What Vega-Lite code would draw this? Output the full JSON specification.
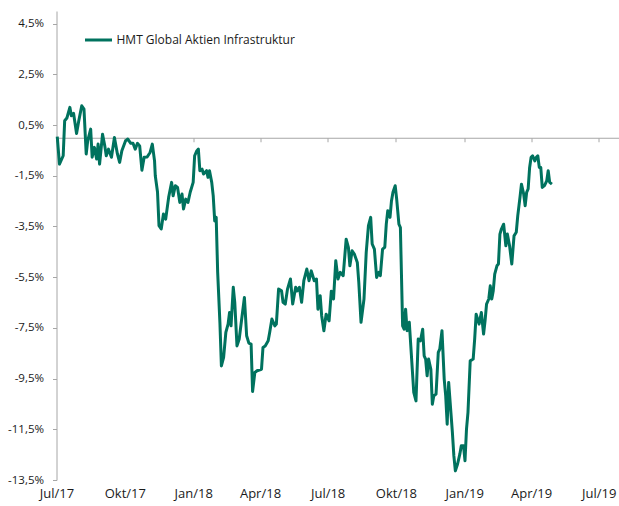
{
  "$schema": "https://vega.github.io/schema/vega-lite/v6.json",
  "width": 563,
  "height": 469,
  "autosize": {"type": "none"},
  "padding": {"left": 56.5, "top": 11, "right": 0, "bottom": 26},
  "background": "white",
  "config": {
    "view": {"stroke": null},
    "font": "Open Sans",
    "axis": {"grid": false, "title": null, "domainColor": "#a6a6a6", "tickColor": "#a6a6a6", "labelColor": "#1a1a1a"}
  },
  "data": {"values": [
    {"date":"2017-07-02","value":0.04},{"date":"2017-07-05","value":-1.04},{"date":"2017-07-10","value":-0.71},{"date":"2017-07-12","value":0.67},{"date":"2017-07-15","value":0.78},{"date":"2017-07-19","value":1.2},{"date":"2017-07-21","value":0.87},{"date":"2017-07-24","value":0.96},{"date":"2017-07-28","value":0.17},{"date":"2017-07-31","value":0.67},
    {"date":"2017-08-04","value":1.26},{"date":"2017-08-07","value":1.13},{"date":"2017-08-10","value":-0.64},{"date":"2017-08-12","value":-0.12},{"date":"2017-08-16","value":0.34},{"date":"2017-08-18","value":-0.77},{"date":"2017-08-21","value":-0.38},{"date":"2017-08-24","value":-0.84},{"date":"2017-08-26","value":-0.25},{"date":"2017-08-28","value":-1.04},
    {"date":"2017-09-01","value":0.14},{"date":"2017-09-04","value":-0.32},{"date":"2017-09-06","value":-0.71},{"date":"2017-09-09","value":-0.45},{"date":"2017-09-13","value":-0.77},{"date":"2017-09-17","value":0.01},{"date":"2017-09-21","value":-0.64},{"date":"2017-09-24","value":-0.97},{"date":"2017-09-27","value":-0.51},
    {"date":"2017-10-02","value":-0.12},{"date":"2017-10-05","value":-0.05},{"date":"2017-10-09","value":-0.22},{"date":"2017-10-12","value":-0.22},{"date":"2017-10-15","value":-0.45},{"date":"2017-10-18","value":-0.22},{"date":"2017-10-21","value":-0.32},{"date":"2017-10-24","value":-1.28},{"date":"2017-10-27","value":-0.77},{"date":"2017-10-31","value":-0.76},
    {"date":"2017-11-04","value":-0.58},{"date":"2017-11-07","value":-0.25},{"date":"2017-11-10","value":-0.91},{"date":"2017-11-11","value":-1.5},{"date":"2017-11-14","value":-2.14},{"date":"2017-11-16","value":-3.47},{"date":"2017-11-19","value":-3.6},{"date":"2017-11-22","value":-3.01},{"date":"2017-11-25","value":-3.21},{"date":"2017-11-29","value":-2.35},
    {"date":"2017-12-03","value":-1.76},{"date":"2017-12-05","value":-2.29},{"date":"2017-12-08","value":-1.89},{"date":"2017-12-11","value":-1.96},{"date":"2017-12-14","value":-2.55},{"date":"2017-12-17","value":-2.22},{"date":"2017-12-19","value":-2.81},{"date":"2017-12-22","value":-2.42},{"date":"2017-12-25","value":-2.55},{"date":"2017-12-28","value":-2.15},
    {"date":"2018-01-01","value":-1.76},{"date":"2018-01-03","value":-0.71},{"date":"2018-01-06","value":-0.51},{"date":"2018-01-08","value":-0.45},{"date":"2018-01-10","value":-1.3},{"date":"2018-01-13","value":-1.24},{"date":"2018-01-15","value":-1.43},{"date":"2018-01-19","value":-1.3},{"date":"2018-01-21","value":-1.56},{"date":"2018-01-23","value":-1.3},{"date":"2018-01-26","value":-1.76},{"date":"2018-01-28","value":-2.29},{"date":"2018-01-30","value":-3.28},
    {"date":"2018-02-01","value":-3.14},{"date":"2018-02-03","value":-5.31},{"date":"2018-02-06","value":-7.28},{"date":"2018-02-08","value":-9.0},{"date":"2018-02-11","value":-8.66},{"date":"2018-02-14","value":-7.68},{"date":"2018-02-17","value":-7.35},{"date":"2018-02-19","value":-6.89},{"date":"2018-02-21","value":-7.42},{"date":"2018-02-24","value":-5.9},{"date":"2018-02-26","value":-6.49},
    {"date":"2018-03-01","value":-8.21},{"date":"2018-03-04","value":-7.94},{"date":"2018-03-07","value":-7.23},{"date":"2018-03-11","value":-6.3},{"date":"2018-03-14","value":-7.81},{"date":"2018-03-17","value":-8.1},{"date":"2018-03-20","value":-8.14},{"date":"2018-03-22","value":-10.01},{"date":"2018-03-25","value":-9.26},{"date":"2018-03-28","value":-9.19},
    {"date":"2018-04-03","value":-9.13},{"date":"2018-04-05","value":-8.27},{"date":"2018-04-08","value":-8.21},{"date":"2018-04-12","value":-8.01},{"date":"2018-04-14","value":-7.68},{"date":"2018-04-17","value":-7.15},{"date":"2018-04-21","value":-7.42},{"date":"2018-04-23","value":-7.35},{"date":"2018-04-26","value":-5.97},{"date":"2018-04-30","value":-6.04},
    {"date":"2018-05-02","value":-6.49},{"date":"2018-05-05","value":-6.56},{"date":"2018-05-08","value":-5.97},{"date":"2018-05-12","value":-5.57},{"date":"2018-05-15","value":-6.56},{"date":"2018-05-19","value":-5.9},{"date":"2018-05-21","value":-6.04},{"date":"2018-05-24","value":-5.9},{"date":"2018-05-27","value":-6.49},{"date":"2018-05-30","value":-5.64},
    {"date":"2018-06-03","value":-5.18},{"date":"2018-06-06","value":-5.64},{"date":"2018-06-09","value":-5.25},{"date":"2018-06-13","value":-5.64},{"date":"2018-06-16","value":-5.57},{"date":"2018-06-18","value":-6.76},{"date":"2018-06-21","value":-6.23},{"date":"2018-06-23","value":-7.02},{"date":"2018-06-26","value":-7.61},{"date":"2018-06-29","value":-6.96},
    {"date":"2018-07-03","value":-7.22},{"date":"2018-07-06","value":-6.05},{"date":"2018-07-09","value":-6.36},{"date":"2018-07-12","value":-4.85},{"date":"2018-07-15","value":-5.57},{"date":"2018-07-18","value":-5.31},{"date":"2018-07-22","value":-5.44},{"date":"2018-07-26","value":-4.0},{"date":"2018-07-29","value":-4.32},{"date":"2018-07-31","value":-5.05},
    {"date":"2018-08-03","value":-4.46},{"date":"2018-08-06","value":-4.59},{"date":"2018-08-10","value":-4.92},{"date":"2018-08-12","value":-5.71},{"date":"2018-08-15","value":-7.28},{"date":"2018-08-19","value":-6.36},{"date":"2018-08-22","value":-4.52},{"date":"2018-08-25","value":-3.47},{"date":"2018-08-28","value":-3.14},{"date":"2018-08-30","value":-4.19},
    {"date":"2018-09-02","value":-4.39},{"date":"2018-09-05","value":-5.51},{"date":"2018-09-08","value":-5.31},{"date":"2018-09-10","value":-5.44},{"date":"2018-09-13","value":-4.39},{"date":"2018-09-16","value":-4.32},{"date":"2018-09-18","value":-3.41},{"date":"2018-09-20","value":-2.88},{"date":"2018-09-23","value":-3.14},{"date":"2018-09-25","value":-2.49},{"date":"2018-09-27","value":-2.15},{"date":"2018-09-30","value":-1.89},
    {"date":"2018-10-02","value":-2.42},{"date":"2018-10-05","value":-3.41},{"date":"2018-10-07","value":-3.54},{"date":"2018-10-10","value":-7.42},{"date":"2018-10-12","value":-7.55},{"date":"2018-10-14","value":-6.76},{"date":"2018-10-16","value":-7.61},{"date":"2018-10-19","value":-7.28},{"date":"2018-10-23","value":-9.13},{"date":"2018-10-25","value":-10.04},{"date":"2018-10-28","value":-10.38},{"date":"2018-10-31","value":-7.94},
    {"date":"2018-11-03","value":-8.01},{"date":"2018-11-06","value":-7.55},{"date":"2018-11-08","value":-8.6},{"date":"2018-11-10","value":-8.73},{"date":"2018-11-12","value":-9.39},{"date":"2018-11-14","value":-8.73},{"date":"2018-11-17","value":-9.13},{"date":"2018-11-19","value":-10.51},{"date":"2018-11-21","value":-10.18},{"date":"2018-11-24","value":-10.11},{"date":"2018-11-27","value":-8.47},{"date":"2018-11-29","value":-8.34},
    {"date":"2018-12-02","value":-7.61},{"date":"2018-12-05","value":-9.52},{"date":"2018-12-07","value":-10.18},{"date":"2018-12-09","value":-11.3},{"date":"2018-12-11","value":-9.65},{"date":"2018-12-14","value":-10.83},{"date":"2018-12-16","value":-11.62},{"date":"2018-12-18","value":-12.55},{"date":"2018-12-20","value":-13.14},{"date":"2018-12-23","value":-12.87},{"date":"2018-12-26","value":-12.48},{"date":"2018-12-28","value":-12.15},{"date":"2018-12-31","value":-12.15},
    {"date":"2019-01-02","value":-12.74},{"date":"2019-01-04","value":-11.49},{"date":"2019-01-06","value":-10.83},{"date":"2019-01-09","value":-8.8},{"date":"2019-01-13","value":-8.73},{"date":"2019-01-15","value":-7.94},{"date":"2019-01-17","value":-6.96},{"date":"2019-01-21","value":-7.35},{"date":"2019-01-24","value":-6.89},{"date":"2019-01-27","value":-7.74},{"date":"2019-01-29","value":-7.22},{"date":"2019-01-31","value":-6.56},
    {"date":"2019-02-03","value":-6.36},{"date":"2019-02-05","value":-5.84},{"date":"2019-02-07","value":-6.36},{"date":"2019-02-09","value":-6.04},{"date":"2019-02-11","value":-5.38},{"date":"2019-02-14","value":-5.05},{"date":"2019-02-16","value":-4.98},{"date":"2019-02-18","value":-3.8},{"date":"2019-02-20","value":-3.6},{"date":"2019-02-23","value":-3.41},{"date":"2019-02-26","value":-4.26},{"date":"2019-02-28","value":-3.8},
    {"date":"2019-03-03","value":-4.26},{"date":"2019-03-06","value":-4.98},{"date":"2019-03-09","value":-3.87},{"date":"2019-03-12","value":-3.73},{"date":"2019-03-14","value":-3.08},{"date":"2019-03-17","value":-2.35},{"date":"2019-03-19","value":-1.83},{"date":"2019-03-22","value":-2.22},{"date":"2019-03-24","value":-2.68},{"date":"2019-03-26","value":-2.15},{"date":"2019-03-28","value":-2.02},{"date":"2019-03-30","value":-1.17},
    {"date":"2019-04-01","value":-0.77},{"date":"2019-04-03","value":-0.71},{"date":"2019-04-06","value":-0.91},{"date":"2019-04-08","value":-0.77},{"date":"2019-04-10","value":-0.71},{"date":"2019-04-12","value":-1.17},{"date":"2019-04-14","value":-1.17},{"date":"2019-04-16","value":-1.96},{"date":"2019-04-19","value":-1.89},{"date":"2019-04-22","value":-1.7},{"date":"2019-04-24","value":-1.3},{"date":"2019-04-26","value":-1.76},{"date":"2019-04-29","value":-1.83}
  ]},
  "layer": [
    {
      "mark": {"type": "line", "opacity": 0},
      "encoding": {
        "x": {
          "field": "date", "type": "temporal",
          "scale": {"type": "utc", "domain": [{"year": 2017, "month": 7, "date": 1, "utc": true}, {"year": 2019, "month": 7, "date": 29, "utc": true}]},
          "axis": {
            "orient": "top", "offset": -126.76, "labels": false, "domain": true, "ticks": true, "tickSize": -4,
            "values": [
              {"year": 2017, "month": 7, "date": 1, "utc": true}, {"year": 2017, "month": 10, "date": 1, "utc": true},
              {"year": 2018, "month": 1, "date": 1, "utc": true}, {"year": 2018, "month": 4, "date": 1, "utc": true},
              {"year": 2018, "month": 7, "date": 1, "utc": true}, {"year": 2018, "month": 10, "date": 1, "utc": true},
              {"year": 2019, "month": 1, "date": 1, "utc": true}, {"year": 2019, "month": 4, "date": 1, "utc": true},
              {"year": 2019, "month": 7, "date": 1, "utc": true}
            ]
          }
        },
        "y": {"field": "value", "type": "quantitative"}
      }
    },
    {
      "mark": {"type": "line", "strokeWidth": 3, "strokeJoin": "round"},
      "encoding": {
        "x": {
          "field": "date", "type": "temporal",
          "axis": {
            "orient": "bottom", "domain": false, "ticks": false, "labelPadding": 7, "labelFontSize": 13,
            "labelFlush": false, "labelOverlap": false,
            "labelExpr": "['Jan','Feb','Mär','Apr','Mai','Jun','Jul','Aug','Sep','Okt','Nov','Dez'][utcmonth(datum.value)] + '/' + utcFormat(datum.value, '%y')",
            "values": [
              {"year": 2017, "month": 7, "date": 1, "utc": true}, {"year": 2017, "month": 10, "date": 1, "utc": true},
              {"year": 2018, "month": 1, "date": 1, "utc": true}, {"year": 2018, "month": 4, "date": 1, "utc": true},
              {"year": 2018, "month": 7, "date": 1, "utc": true}, {"year": 2018, "month": 10, "date": 1, "utc": true},
              {"year": 2019, "month": 1, "date": 1, "utc": true}, {"year": 2019, "month": 4, "date": 1, "utc": true},
              {"year": 2019, "month": 7, "date": 1, "utc": true}
            ]
          }
        },
        "y": {
          "field": "value", "type": "quantitative",
          "scale": {"domain": [-13.5, 5], "nice": false, "zero": false},
          "axis": {
            "values": [-13.5, -11.5, -9.5, -7.5, -5.5, -3.5, -1.5, 0.5, 2.5, 4.5],
            "tickSize": 4, "labelPadding": 9, "labelFontSize": 11.5,
            "labelExpr": "replace('' + datum.value, '.', ',') + '%'"
          }
        },
        "color": {
          "datum": "HMT Global Aktien Infrastruktur",
          "scale": {"range": ["#00725e"]},
          "legend": {
            "orient": "none", "legendX": 27, "legendY": 14, "title": null,
            "symbolType": "stroke", "symbolStrokeWidth": 3, "symbolSize": 729,
            "labelFontSize": 12, "labelColor": "#1a1a1a", "labelOffset": 3, "labelLimit": 400, "padding": 0
          }
        }
      }
    }
  ],
  "resolve": {"axis": {"x": "independent"}}
}
